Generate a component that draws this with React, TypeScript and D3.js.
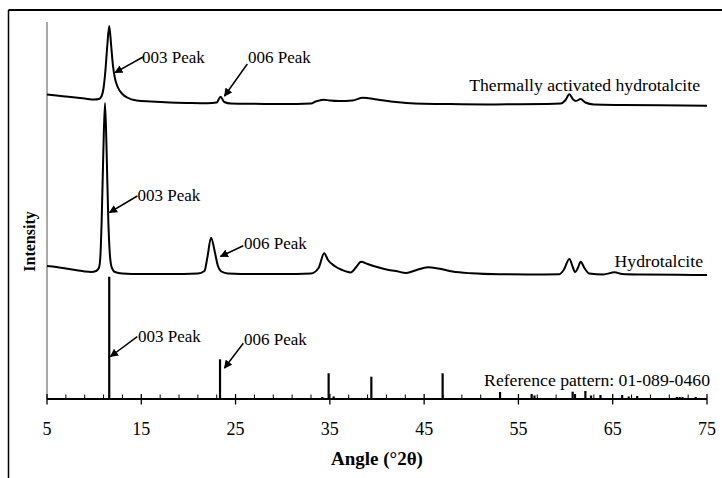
import React from 'react';
import * as d3 from 'd3';

// ---- data (angle °2θ, intensity in arbitrary units) ----
const activatedAngle = [5, 6, 7, 8, 9, 10, 10.5, 10.8, 11.0, 11.2, 11.4, 11.6, 11.8, 12.0, 12.2, 12.5, 13.0, 13.5, 14.5, 16, 18, 20, 22, 23.0, 23.4, 23.8, 24.5, 27, 30, 33, 33.5, 34.3, 35, 36, 37.4, 38.5, 40, 42, 44, 47, 51.7, 55, 58, 59.5, 60.0, 60.4, 60.8, 61.1, 61.6, 62.1, 63, 66, 70, 75];
const activatedCounts = [304.5, 303.5, 302.5, 301.5, 300.5, 299.5, 300, 303, 311, 329, 354, 373, 354, 333, 321, 312, 305, 301.5, 298.5, 297.5, 296.5, 296, 295.7, 296.5, 302.3, 297, 295.5, 295.2, 295, 295.5, 297.5, 299.3, 298.5, 298, 298.5, 301.3, 299.5, 297, 295.5, 295, 294.5, 294.8, 295, 295.5, 299, 304.7, 299.5, 298, 300, 296.5, 294.5, 294, 293.7, 293.3];

const hydroAngle = [5, 6, 7, 8, 9, 9.7, 10.2, 10.5, 10.65, 10.8, 10.98, 11.15, 11.32, 11.5, 11.65, 11.85, 12.2, 13, 15, 18, 21, 21.7, 22.0, 22.4, 22.8, 23.1, 23.5, 24.2, 27, 30, 33, 33.8, 34.4, 34.8, 35.5, 36.3, 37.2, 37.8, 38.3, 39, 40, 41, 42, 43.1, 44.2, 45.4, 46.5, 48, 50, 53, 56, 59.3, 59.8, 60.4, 60.8, 61.0, 61.3, 61.6, 62.0, 62.5, 64, 65.2, 66, 68, 72, 75];
const hydroCounts = [133, 132, 130.5, 129, 127.5, 127, 128, 131, 141, 179, 249, 296, 249, 179, 147, 132, 127, 125.5, 125, 125, 125.5, 128, 141, 161.3, 147, 134, 127.5, 125.5, 125, 125, 125.5, 131, 145.7, 139, 133, 129, 126.6, 132, 137.3, 135, 132, 129.5, 128, 126, 129, 131.7, 130.5, 127.5, 125.7, 124.7, 124.5, 124.7, 129, 140, 131, 126.7, 131, 137.3, 131, 125.5, 124.5, 126.7, 125, 124.5, 124.2, 124];

const refAngle = [11.6, 23.35, 34.2, 34.87, 35.4, 39.4, 46.96, 53.05, 56.4, 56.7, 60.75, 61.0, 62.1, 62.7, 63.7, 66.0, 66.7, 67.6, 71.8, 72.1, 72.4, 73.8];
const refCounts = [122.3, 39.7, 2, 25.7, 2.5, 22.3, 25.7, 7, 5, 3.5, 7.3, 5, 8, 3.5, 4, 4, 2.5, 3, 2, 2, 2, 2];

const majorTicks = [5, 15, 25, 35, 45, 55, 65, 75];
const minorTicks = [7, 9, 11, 13, 17, 19, 21, 23, 27, 29, 31, 33, 37, 39, 41, 43, 47, 49, 51, 53, 57, 59, 61, 63, 67, 69, 71, 73];

const seriesLabels = ['Thermally activated hydrotalcite', 'Hydrotalcite', 'Reference pattern: 01-089-0460'];
const peakLabels = ['003 Peak', '006 Peak'];

const W = 722;
const H = 478;
const FONT = "'Liberation Serif', 'DejaVu Serif', serif";

export default function App() {
  const x = d3.scaleLinear().domain([5, 75]).range([47, 707]);
  const y = d3.scaleLinear().domain([0, 377]).range([399, 22]);

  const mkPath = (ax: number[], cy: number[]) =>
    d3
      .line<number>()
      .x((d) => x(ax[d]))
      .y((d) => y(cy[d]))
      .curve(d3.curveMonotoneX)(d3.range(ax.length)) || '';

  const arrows = [
    { x1: 143, y1: 57, x2: 115, y2: 72.7, tx: 142, ty: 63, label: peakLabels[0] },
    { x1: 247.3, y1: 64, x2: 224.5, y2: 96, tx: 248, ty: 63, label: peakLabels[1] },
    { x1: 137.3, y1: 196, x2: 109.5, y2: 212.5, tx: 137.5, ty: 201, label: peakLabels[0] },
    { x1: 243.3, y1: 245.7, x2: 220.5, y2: 256.5, tx: 244, ty: 249, label: peakLabels[1] },
    { x1: 137.3, y1: 336.7, x2: 110.5, y2: 356.5, tx: 138, ty: 342, label: peakLabels[0] },
    { x1: 243.3, y1: 343.3, x2: 224.5, y2: 368, tx: 244, ty: 344.5, label: peakLabels[1] },
  ];

  const ts = { fontFamily: FONT };

  return (
    <svg width={W} height={H} style={{ position: 'absolute', left: 0, top: 0, background: '#fff', fontFamily: FONT }}>
      <defs>
        <marker id="ah" viewBox="0 0 10 10" refX="9" refY="5" markerWidth="5.5" markerHeight="5.5" orient="auto">
          <path d="M0,0 L10,5 L0,10 z" fill="#000" />
        </marker>
      </defs>
      <rect x={0} y={0} width={W} height={H} fill="#fff" />
      {/* outer frame (partially cropped) */}
      <line x1={8.5} y1={10} x2={W} y2={10} stroke="#000" strokeWidth={2} />
      <line x1={8.5} y1={10} x2={8.5} y2={H} stroke="#000" strokeWidth={1.5} />

      {/* y axis */}
      <line x1={47} y1={22} x2={47} y2={399} stroke="#555" strokeWidth={1} />

      {/* reference bars */}
      {refAngle.map((a, i) => (
        <line key={'r' + i} x1={x(a)} x2={x(a)} y1={y(0)} y2={y(refCounts[i])} stroke="#000" strokeWidth={2.2} />
      ))}

      {/* x axis */}
      <line x1={x(5)} x2={x(75)} y1={399} y2={399} stroke="#000" strokeWidth={2} />
      {majorTicks.map((t) => (
        <line key={'M' + t} x1={x(t)} x2={x(t)} y1={394} y2={404.5} stroke="#000" strokeWidth={1.3} />
      ))}
      {minorTicks.map((t) => (
        <line key={'m' + t} x1={x(t)} x2={x(t)} y1={394.5} y2={399} stroke="#000" strokeWidth={1} />
      ))}
      {majorTicks.map((t) => (
        <text key={'L' + t} x={x(t)} y={435} fontSize={18} textAnchor="middle" fill="#000" style={ts}>
          {t}
        </text>
      ))}

      {/* spectra */}
      <path d={mkPath(activatedAngle, activatedCounts)} fill="none" stroke="#000" strokeWidth={2} strokeLinejoin="round" />
      <path d={mkPath(hydroAngle, hydroCounts)} fill="none" stroke="#000" strokeWidth={2} strokeLinejoin="round" />

      {/* annotations */}
      {arrows.map((a, i) => (
        <g key={'a' + i}>
          <line x1={a.x1} y1={a.y1} x2={a.x2} y2={a.y2} stroke="#000" strokeWidth={1.5} markerEnd="url(#ah)" />
          <text x={a.tx} y={a.ty} fontSize={17} fill="#000" style={ts}>
            {a.label}
          </text>
        </g>
      ))}

      {/* series labels */}
      <text x={700} y={90.5} fontSize={17.7} textAnchor="end" fill="#000" style={ts}>
        {seriesLabels[0]}
      </text>
      <text x={703} y={266.5} fontSize={17.7} textAnchor="end" fill="#000" style={ts}>
        {seriesLabels[1]}
      </text>
      <text x={710} y={385.5} fontSize={17.7} textAnchor="end" fill="#000" style={ts}>
        {seriesLabels[2]}
      </text>

      {/* axis titles */}
      <text x={377} y={465} fontSize={19} fontWeight="bold" textAnchor="middle" fill="#000" style={ts}>
        Angle (°2θ)
      </text>
      <text
        transform="translate(35,241.5) rotate(-90)"
        fontSize={16}
        fontWeight="bold"
        textAnchor="middle"
        fill="#000"
        style={ts}
      >
        Intensity
      </text>
    </svg>
  );
}
